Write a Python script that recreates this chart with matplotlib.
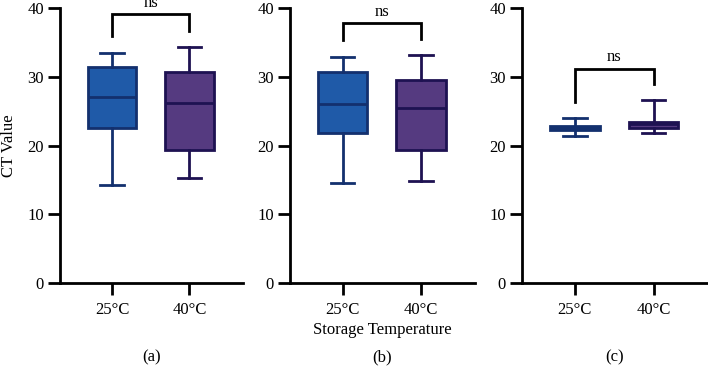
import matplotlib
matplotlib.use('Agg')
import matplotlib.pyplot as plt

plt.rcParams['font.family'] = ['Liberation Serif', 'DejaVu Serif']

# Storage temperature groups
groups = ["25°C", "40°C"]
panel_tags = ["(a)", "(b)", "(c)"]

# box stats per panel: [25°C, 40°C]
whis_lo = [[14.2, 15.3], [14.6, 14.8], [21.4, 21.8]]
q1 = [[22.6, 19.3], [21.8, 19.3], [22.3, 22.6]]
median = [[27.1, 26.2], [26.1, 25.4], [22.6, 23.1]]
q3 = [[31.4, 30.7], [30.7, 29.5], [22.9, 23.4]]
whis_hi = [[33.5, 34.3], [32.9, 33.1], [24.0, 26.6]]

# significance brackets: top, left leg end, right leg end
bracket_top = [39.1, 37.8, 31.2]
bracket_left = [36.0, 35.3, 26.3]
bracket_right = [36.7, 35.5, 28.9]
sig_label = ["ns", "ns", "ns"]

fill_colors = ["#1f5aa8", "#553a80"]
edge_colors = ["#13306e", "#1e1252"]

W, H = 708, 367
fig = plt.figure(figsize=(W / 100, H / 100), dpi=100)

# axes rectangles in pixels: left, right
ax_px = [(60, 243), (290, 475), (522, 708)]
y0_px, y40_px = 283, 8

for p, (xl, xr) in enumerate(ax_px):
    ax = fig.add_axes([xl / W, (H - y0_px) / H, (xr - xl) / W, (y0_px - y40_px) / H])
    stats = []
    for g in range(2):
        stats.append(dict(whislo=whis_lo[p][g], q1=q1[p][g], med=median[p][g],
                          q3=q3[p][g], whishi=whis_hi[p][g], fliers=[]))
    for g in range(2):
        ec = edge_colors[g]
        ax.bxp([stats[g]], positions=[g], widths=0.63, patch_artist=True,
               showfliers=False,
               boxprops=dict(facecolor=fill_colors[g], edgecolor=ec, linewidth=2),
               medianprops=dict(color=ec, linewidth=2),
               whiskerprops=dict(color=ec, linewidth=2),
               capprops=dict(color=ec, linewidth=2),
               capwidths=0.3)

    ax.plot([0, 0, 1, 1], [bracket_left[p], bracket_top[p], bracket_top[p], bracket_right[p]],
            color="black", lw=2, clip_on=False, solid_joinstyle="miter")
    ax.text(0.5, bracket_top[p] + 0.45, sig_label[p], ha="center", va="bottom", fontsize=12)

    ax.set_xlim(-0.67, 1.69)
    ax.set_ylim(0, 40)
    ax.set_yticks([0, 10, 20, 30, 40])
    ax.set_xticks([0, 1])
    ax.set_xticklabels(groups)
    for s in ["top", "right"]:
        ax.spines[s].set_visible(False)
    for s in ["left", "bottom"]:
        ax.spines[s].set_linewidth(2)
    ax.tick_params(axis="both", length=8.5, width=2, labelsize=12, pad=3)
    ax.tick_params(axis="x", pad=5)
    ax.patch.set_alpha(0)

    cx = (xl + xr) / 2 / W
    fig.text(cx, 1 - 357 / H, panel_tags[p], ha="center", va="center", fontsize=12)

fig.text(9 / W, 1 - 146 / H, "CT Value", rotation=90, ha="center", va="center", fontsize=12)
fig.text(382 / W, 1 - 330 / H, "Storage Temperature", ha="center", va="center", fontsize=12)

fig.savefig("out.png", dpi=100)
